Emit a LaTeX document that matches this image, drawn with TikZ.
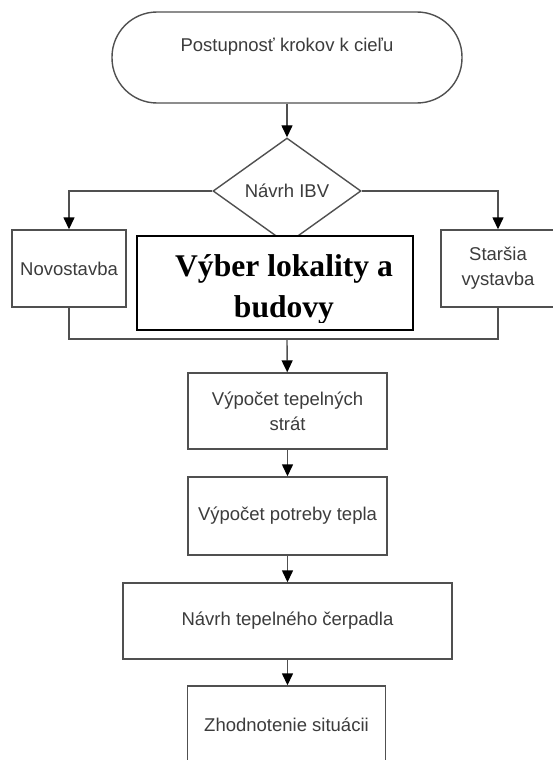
\documentclass[tikz,border=0pt]{standalone}
\usepackage{fontspec}
\setmainfont{Liberation Serif}
\setsansfont{Liberation Sans}
\usetikzlibrary{arrows.meta,shapes.geometric}
\definecolor{linegray}{HTML}{505050}
\definecolor{textgray}{HTML}{3C3C3C}
\tikzset{
    stepline/.style={draw=linegray,line width=1.4pt},
    flowbox/.style={stepline,rectangle,fill=white,inner sep=0pt,align=center,
        text=textgray,font=\sffamily\fontsize{18.5}{25}\selectfont},
    flowarrow/.style={stepline,-{Triangle[width=11pt,length=12pt,color=black]}},
}

\begin{document}
\begin{tikzpicture}[x=1pt,y=-1pt]
    \clip (0,0) rectangle (553,760);
    \fill[white] (0,0) rectangle (553,760);

    \node[flowbox,rounded corners=45pt,minimum width=350pt,minimum height=91pt,
        text height=13pt,text depth=24pt] (start) at (287,57.5) {Postupnosť krokov k cieľu};
    \node[flowbox,shape=diamond,aspect=1.4,minimum width=148pt,minimum height=106pt] (ibv) at (287,191) {Návrh IBV};
    \node[flowbox,minimum width=114pt,minimum height=77pt] (nova) at (69,268.5) {Novostavba};
    \node[flowbox,minimum width=114pt,minimum height=77pt] (stara) at (498,268.5) {Staršia\\vystavba};
    \coordinate (join) at (287,339);
    \node[flowbox,minimum width=199pt,minimum height=76pt] (straty) at (287.5,411) {Výpočet tepelných\\strát};
    \node[flowbox,minimum width=199pt,minimum height=78pt] (potreba) at (287.5,516) {Výpočet potreby tepla};
    \node[flowbox,minimum width=329pt,minimum height=76pt] (cerpadlo) at (287.5,621) {Návrh tepelného čerpadla};
    \node[flowbox,minimum width=198pt,minimum height=78pt] (zhodnotenie) at (286.5,725) {Zhodnotenie situácii};

    % connectors
    \draw[flowarrow] (start) -- (ibv);
    \draw[flowarrow] (ibv.west) -| (nova.north);
    \draw[flowarrow] (ibv.east) -| (stara.north);
    \draw[stepline] (nova.south) |- (join) -| (stara.south);
    \draw[flowarrow] (join) -- (straty);
    \draw[flowarrow] (straty) -- (potreba);
    \draw[flowarrow] (potreba) -- (cerpadlo);
    \draw[flowarrow] (cerpadlo.south) -- (cerpadlo.south |- zhodnotenie.north);

    % box on top
    \node[draw=black,line width=1.8pt,fill=white,minimum width=276pt,minimum height=94pt] (lokalita) at (275,283) {};
    \begin{scope}
        \clip (lokalita.north west) rectangle ([yshift=8pt]lokalita.south east);
        \node[align=center,font=\bfseries\fontsize{31.6}{41}\selectfont] (lokalitatext) at (284,289) {Výber lokality a\\budovy};
    \end{scope}

\end{tikzpicture}
\end{document}
